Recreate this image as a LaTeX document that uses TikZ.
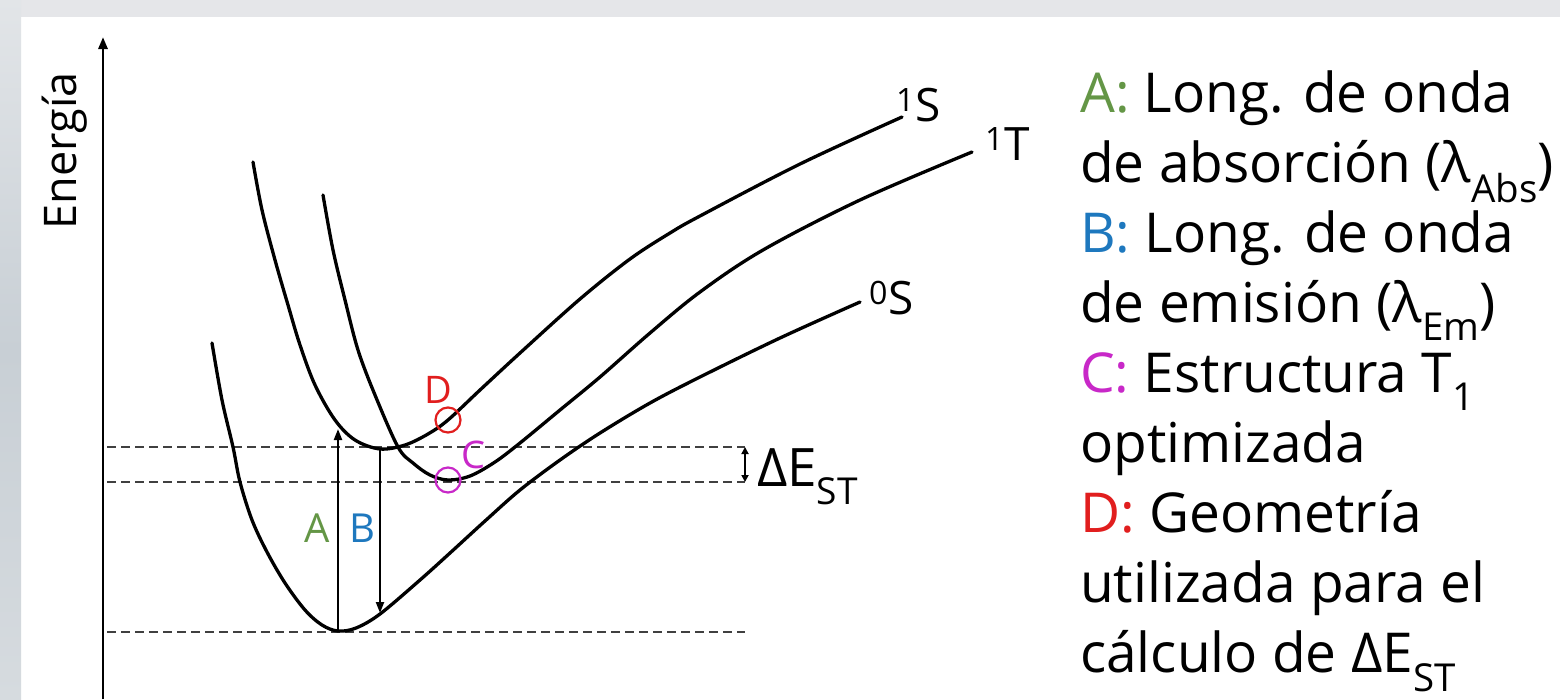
\documentclass[tikz,border=0pt]{standalone}
\usepackage{fontspec}
\setmainfont{Open Sans}
\usetikzlibrary{arrows.meta}
\definecolor{cA}{RGB}{100,150,70}
\definecolor{cB}{RGB}{30,120,190}
\definecolor{cC}{RGB}{200,40,200}
\definecolor{cD}{RGB}{225,30,30}
\definecolor{bandtop}{RGB}{229,230,233}
\definecolor{bandA}{RGB}{226,229,232}
\definecolor{bandB}{RGB}{200,207,213}
\definecolor{bandC}{RGB}{214,219,223}
\tikzset{
  pes/.style={line width=3.3pt, line join=round, line cap=round},
  guide/.style={line width=1.8pt, dash pattern=on 9pt off 5pt, color=black!75},
  trans/.style={line width=2.2pt, -{Triangle[length=11pt,width=8pt]}},
  ringmark/.style={circle, draw, line width=2.2pt, minimum size=25pt, inner sep=0pt},
  lbl/.style={inner sep=0pt, font=\fontsize{40}{48}\selectfont},
  stlbl/.style={anchor=base west, inner sep=0pt, font=\fontsize{46}{54}\selectfont},
  leg/.style={anchor=base west, inner sep=0pt, font=\fontsize{55}{70}\selectfont},
}
\begin{document}
\begin{tikzpicture}[x=1pt,y=-1pt]
\useasboundingbox (0,0) rectangle (1560,699);
% background
\fill[white] (0,0) rectangle (1560,699);
\fill[bandtop] (0,0) rectangle (1560,17);
\shade[top color=bandA, bottom color=bandC, middle color=bandB] (0,0) rectangle (21,699);

% axis
\coordinate (axb) at (103,699);
\coordinate (axt) at (103,37);
\draw[line width=2.8pt, -{Triangle[length=12pt,width=9pt]}] (axb) -- (axt);
\node[rotate=90, inner sep=0pt, font=\fontsize{45}{54}\selectfont] (elabel) at (65,151) {Energía};

% dashed guide lines
\coordinate (g1a) at (107,447); \coordinate (g1b) at (745,447);
\coordinate (g2a) at (107,482); \coordinate (g2b) at (745,482);
\coordinate (g3a) at (107,632); \coordinate (g3b) at (745,632);
\draw[guide] (g1a) -- (g1b);
\draw[guide] (g2a) -- (g2b);
\draw[guide] (g3a) -- (g3b);

% potential energy curves
% 0S
\draw[pes] plot[smooth, tension=0.55] coordinates {
 (212,343) (222,400) (233,447) (240,482) (252,520) (267,552) (285,583)
 (305,610) (322,625) (338,631) (356,628) (380,614) (420,580) (450,553)
 (485,521) (520,490) (560,460) (600,433) (650,403) (700,377) (780,338) (860,302)};
% 1S
\draw[pes] plot[smooth, tension=0.55] coordinates {
 (253,162) (262,210) (275,260) (288,305) (300,345) (315,385) (335,420)
 (355,440) (380,449) (405,445) (428,434) (448,420) (480,390) (520,353)
 (580,299) (630,259) (670,233) (700,216) (800,164) (902,117)};
% 1T
\draw[pes] plot[smooth, tension=0.55] coordinates {
 (323,195) (333,250) (345,300) (358,350) (375,395) (398,447) (413,463)
 (430,475) (448,480) (470,476) (495,462) (520,443) (560,410) (600,377)
 (650,333) (700,292) (763,250) (860,200) (972,152)};

% state labels
\node[stlbl] (lS1) at (896,121) {\textsuperscript{1}S};
\node[stlbl] (lT1) at (985,160) {\textsuperscript{1}T};
\node[stlbl] (lS0) at (869,314) {\textsuperscript{0}S};

% transitions
\coordinate (Abot) at (338,630);
\coordinate (Atop) at (338,429);
\coordinate (Btop) at (380,450);
\coordinate (Bbot) at (380,613);
\draw[trans] (Abot) -- (Atop);
\draw[trans] (Btop) -- (Bbot);
\node[lbl, text=cA] (labA) at (317,528) {A};
\node[lbl, text=cB] (labB) at (362,528) {B};

% marked points
\node[ringmark, draw=cD] (ringD) at (448,420) {};
\node[ringmark, draw=cC] (ringC) at (448,480) {};
\node[lbl, text=cD, font=\fontsize{38}{44}\selectfont] (labD) at (438,390) {D};
\node[lbl, text=cC, font=\fontsize{38}{44}\selectfont] (labC) at (473,455) {C};

% Delta E_ST
\coordinate (de1) at (745,447);
\coordinate (de2) at (745,482);
\draw[line width=1.8pt, {Triangle[length=7pt,width=7pt]}-{Triangle[length=7pt,width=7pt]}] (de1) -- (de2);
\node[anchor=base west, inner sep=0pt, font=\fontsize{53}{60}\selectfont] (deST) at (757,486) {ΔE\textsubscript{ST}};

% legend
\node[leg] (L1) at (1080,112) {\textcolor{cA}{A:} Long. de onda};
\node[leg] (L2) at (1080,182) {de absorción (λ\textsubscript{Abs})};
\node[leg] (L3) at (1080,252) {\textcolor{cB}{B:} Long. de onda};
\node[leg] (L4) at (1080,322) {de emisión (λ\textsubscript{Em})};
\node[leg] (L5) at (1080,392) {\textcolor{cC}{C:} Estructura T\textsubscript{1}};
\node[leg] (L6) at (1080,462) {optimizada};
\node[leg] (L7) at (1080,532) {\textcolor{cD}{D:} Geometría};
\node[leg] (L8) at (1080,602) {utilizada para el};
\node[leg] (L9) at (1080,672) {cálculo de ΔE\textsubscript{ST}};
\end{tikzpicture}
\end{document}
